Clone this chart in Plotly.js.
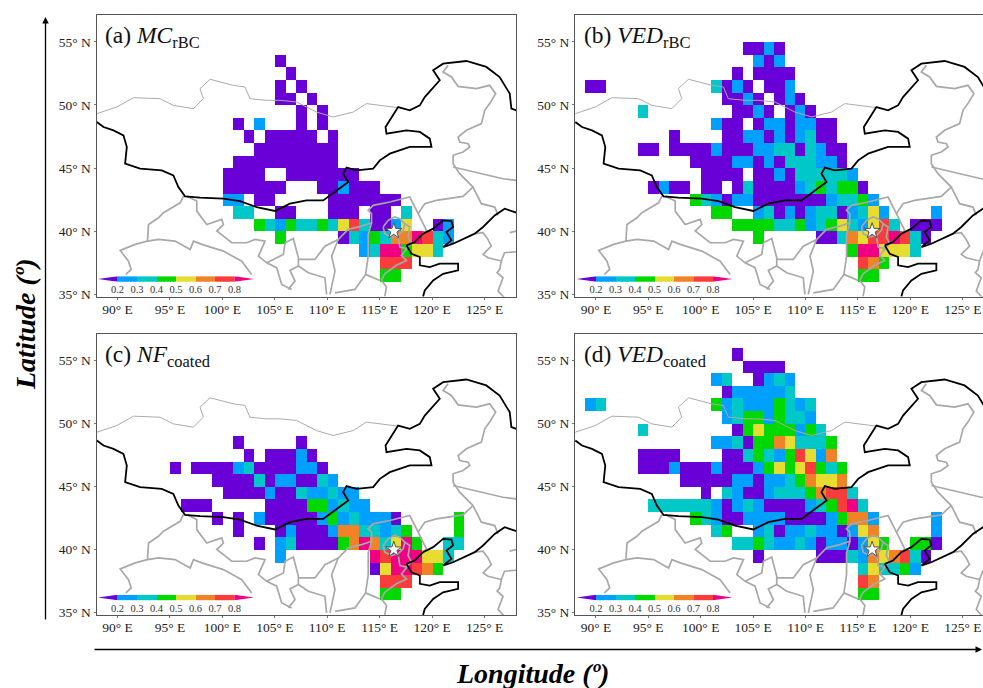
<!DOCTYPE html>
<html>
<head>
<meta charset="utf-8">
<script src="https://cdn.plot.ly/plotly-3.0.1.min.js"></script>
<style>html,body{margin:0;padding:0;background:#fff;overflow:hidden}</style>
</head>
<body>
<div id="chart" style="width:983px;height:688px"></div>
<script>
// Class colours and the value each class stands for
const classColors = ["#6a00d8","#00a0ff","#00c8c8","#00d800","#e6dc32","#f08228","#fa3c3c","#f00082"];
const classValues = [0.15,0.25,0.35,0.45,0.55,0.65,0.75,0.85];
const barTicks = [0.2,0.3,0.4,0.5,0.6,0.7,0.8];
const barCenters = [0.25,0.35,0.45,0.55,0.65,0.75];
const lonTicks = [90,95,100,105,110,115,120,125];
const lonTickText = ["90° E","95° E","100° E","105° E","110° E","115° E","120° E","125° E"];
const latTicks = [35,40,45,50,55];
const latTickText = ["35° N","40° N","45° N","50° N","55° N"];

// Each entry: [southern latitude of the row, western longitude of the run, class codes 1-8 for 1-degree cells]
const mcRbc = [
[53,105,"1"],[52,106,"1"],[51,105,"1"],[51,107,"1"],[50,105,"11"],[50,108,"1"],[49,107,"1"],[49,109,"1"],
[48,101,"1"],[48,103,"2"],[48,107,"1"],[48,109,"1"],[47,102,"1"],[47,104,"11111"],[47,110,"1"],
[46,103,"11111111"],[45,101,"1111111111"],[44,100,"1111"],[44,106,"1111111"],
[43,100,"111111"],[43,109,"112111"],[42,100,"22"],[42,103,"11"],[42,110,"1111111"],
[41,101,"33"],[41,105,"11"],[41,110,"111"],[41,114,"11"],[41,117,"3"],
[40,103,"432433435731125"],[40,120,"12"],[39,105,"4"],[39,111,"13243668732"],
[38,113,"23884553"],[37,115,"777"],[36,115,"44"]];
const vedRbc = [
[54,104,"1121"],[53,105,"212"],[52,103,"1"],[52,105,"1111"],[51,89,"11"],[51,101,"3121"],[51,106,"112"],
[50,102,"1121"],[50,107,"121"],[49,94,"3"],[49,103,"1121"],[49,108,"121"],[48,101,"211"],[48,105,"12212211"],
[47,97,"1"],[47,102,"11221212311"],[46,94,"11"],[46,97,"1111"],[46,101,"2111223313211"],
[45,99,"111122121333221"],[44,100,"1111"],[44,105,"1121333332"],
[43,95,"1211"],[43,100,"11"],[43,103,"1311112343441"],[42,99,"432122111111123342"],
[41,101,"44"],[41,105,"2312123312352"],[41,122,"2"],[40,103,"4444334234532573"],[40,120,"111"],
[39,105,"4"],[39,111,"11365778731"],[38,114,"4885553"],[37,115,"764"],[36,115,"44"]];
const nfCoated = [
[48,101,"1"],[48,107,"1"],[47,102,"1"],[47,104,"11121"],[46,95,"1"],[46,97,"1111231111221"],
[45,99,"111131221132"],[44,100,"1111211322322"],[43,96,"111"],[43,104,"1111442322"],
[42,99,"1"],[42,101,"1"],[42,103,"21111124232221"],[42,122,"4"],
[41,101,"1"],[41,105,"1211126633234"],[41,122,"4"],[40,103,"1"],[40,105,"23111146863584"],[40,121,"33"],
[39,105,"2"],[39,114,"87888"],[39,119,"553"],[38,114,"1588764"],[37,115,"777"],[36,115,"44"]];
const vedCoated = [
[55,103,"1"],[54,104,"1111"],[53,101,"23"],[53,105,"1232"],[52,102,"1222223"],[51,89,"23"],[51,101,"4232224323"],
[50,102,"234424332"],[49,94,"3"],[49,103,"145444243"],[48,101,"223144653334"],[47,94,"1111"],[47,102,"11343247526"],
[46,94,"11121112111245457434"],[45,98,"1111122122346556"],[44,100,"1"],[44,102,"3211233346773"],
[43,95,"333333212321111234783"],[42,99,"432112222111124662"],[42,122,"2"],
[41,101,"34"],[41,105,"231223221256"],[41,122,"2"],[40,103,"334322321221254"],[40,120,"441"],
[39,105,"1"],[39,111,"11132656731"],[38,115,"353342"],[37,115,"76"],[36,115,"44"]];

// Map outlines as [lon, lat] lists
const borderBlack = [
[[88.03,48.65],[88.67,48.25],[89.62,47.99],[90.57,47.59],[90.89,46.67],[90.73,45.34],[92.16,44.95],[94.22,44.81],[95.33,44.42],[95.81,43.49],[96.44,42.75],[97.87,42.65],[100.1,42.57],[101.68,42.38],[103.27,41.9],[105.02,41.59],[106.44,42.17],[108.03,42.43],[109.62,42.43],[110.89,43.23],[112.0,43.89],[111.52,44.55],[111.84,45.03],[112.79,44.81],[114.38,44.95],[115.02,45.61],[115.97,46.14],[117.87,46.67],[119.94,46.67],[119.78,47.33],[118.83,47.86],[117.56,47.99],[115.65,47.72],[115.56,48.25],[116.13,49.05],[116.76,49.84],[117.87,49.58],[118.83,49.97],[119.3,50.63],[120.73,51.96],[120.1,52.75],[121.05,53.28],[123.27,53.49],[125.17,53.02],[126.44,52.22],[127.4,50.9],[127.56,49.71],[128.03,49.58]],
[[117.56,38.86],[118.35,39.13],[119.14,39.79],[120.1,40.19],[121.05,40.85],[121.84,40.79],[122.0,40.32],[121.37,39.92],[121.84,39.26],[121.05,38.73],[122,38.99],[123.27,39.52],[124.07,39.79],[124.86,40.32],[125.97,41.24],[126.92,41.77],[128.03,41.46]],
[[117.56,38.86],[118.03,38.2],[118.83,37.94],[118.83,37.28],[119.78,37.14],[120.73,37.41],[122.48,37.41],[122.48,36.88],[121.05,36.61],[120.1,36.08],[119.3,35.29],[119.14,34.8]]];
const borderThinGray = [
[[88.03,49.31],[89.94,49.84],[91.52,50.58],[94.06,50.5],[95.33,49.97],[97.24,49.71],[98.19,50.5],[97.87,51.3],[98.83,52.04],[101.05,51.56],[102.16,51.43],[102.63,50.5],[104.22,50.37],[105.49,50.37],[107.08,50.24],[108.98,49.44],[110.57,49.05],[112.48,49.44],[113.75,50.11],[116.76,49.79]]];
const borderGray = [
[[96.29,42.77],[95.98,42.24],[94.39,41.45],[93.91,41.05],[92.96,40.52],[92.86,39.2],[91.69,38.94],[90.26,38.46],[91.05,37.61],[91.31,36.95],[90.8,36.56]],
[[92.86,39.2],[93.91,39.33],[95.5,39.2],[96.93,38.54],[97.25,39.2],[98.04,38.94],[100.1,38.41],[101.85,37.61],[102.8,36.56]],
[[96.61,42.77],[97.56,42.38],[97.56,41.58],[98.51,40.52],[99.94,40.92],[100.1,40.52],[99.47,40],[100.9,39.07],[102.32,39.07],[103.12,39.33],[104.07,39.2],[103.44,38.01],[104.23,37.48],[105.18,37.09],[105.66,35.76],[106.61,35.37]],
[[104.23,37.48],[105.82,38.14],[105.98,39.07],[106.77,39.41],[107.25,37.88],[107.25,37.22],[106.45,36.87],[106.93,36.03],[106.29,35.37]],
[[107.25,37.75],[108.83,37.75],[109.78,38.8],[111.05,39.33],[112,40.13],[113.28,40.39],[114.23,40.66],[114.22,41.38],[113.9,41.64],[114.38,42.04],[115.97,42.3],[117.08,42.57],[117.87,42.7],[118.67,41.38],[119.14,40.58],[119.46,40.05],[119.14,39.79]],
[[107.25,37.22],[108.2,36.69],[109.78,36.29],[109.94,34.97]],
[[111.05,39.33],[110.42,38],[110.74,36.82],[110.26,34.97]],
[[114.23,40.66],[113.91,39.73],[113.91,38],[113.66,36.56],[115.02,36.08]],
[[113.66,36.56],[112.64,35.37],[110.74,35.1]],
[[115.17,36.08],[115.49,36.61],[116.6,37.28],[117.56,37.67],[117.08,38.07],[117.71,38.73]],
[[115.17,36.08],[115.65,35.56],[115.49,34.81]],
[[115.33,40.32],[115.81,40.85],[116.44,41.11],[116.92,40.98],[117.4,40.58],[117.24,40.05],[116.76,39.66],[116.13,39.52],[115.49,39.79],[115.33,40.32]],
[[117.4,40.58],[117.87,40.32],[117.71,39.52],[118.03,39],[117.56,38.6],[116.92,38.73],[116.76,39.66]],
[[121.52,53.15],[121.05,52.62],[121.84,52.22],[122.48,51.48],[124.22,51.3],[125.49,51.56],[126.06,50.9],[125.49,50.11],[125.02,49.58],[124.7,48.52],[123.27,47.99],[122.48,47.46],[122.63,47.06],[123.43,46.93],[123.59,46.67],[122.95,46.27],[122,46.01],[122,45.34],[122.63,44.55],[123.9,43.49],[122.95,42.75],[120.41,42.43],[119.3,42.17],[118.67,41.38]],
[[122,45.08],[124.86,44.55],[126.76,44.15],[128.03,44.02]],
[[123.9,43.49],[124.7,42.17],[125.97,41.9],[126.29,41.24]],
[[124.07,39.79],[124.86,39.87],[125.33,39.34],[125.65,38.81],[124.86,38.15],[125.33,37.88],[126.6,37.62],[126.45,36.96],[126.2,36.69],[126.76,36.29],[126.29,35.24],[126.9,34.7]],
[[126.6,37.62],[126.9,38.28],[128.04,38.36]],
[[127.4,39.87],[128.04,40]]];
const siteLon = [116.35], siteLat = [40.0];

// Panel geometry in page pixels
const W = 983, H = 688;
const panels = [
 {data:mcRbc,    label:"(a) <i>MC</i><sub>rBC</sub>",      x0:96.5, x1:516, y0:15,  y1:296.7, xr:[88,128]},
 {data:vedRbc,   label:"(b) <i>VED</i><sub>rBC</sub>",     x0:575,  x1:983, y0:15,  y1:296.7, xr:[88,126.93]},
 {data:nfCoated, label:"(c) <i>NF</i><sub>coated</sub>",   x0:96.5, x1:516, y0:333.5,y1:615.2, xr:[88,128]},
 {data:vedCoated,label:"(d) <i>VED</i><sub>coated</sub>",  x0:575,  x1:983, y0:333.5,y1:615.2, xr:[88,126.93]}
];
const scale = classColors.flatMap((c,i)=>[[i/8,c],[(i+1)/8,c]]);
const font = "Liberation Serif, Times New Roman, serif";

function grid(rows){
  const lons=[],lats=[];
  for(let i=88;i<128;i++)lons.push(i+0.5);
  for(let j=34;j<58;j++)lats.push(j+0.5);
  const z=lats.map(()=>lons.map(()=>null));
  rows.forEach(([lat,lon,codes])=>{
    [...codes].forEach((c,k)=>{ z[lat-34][lon-88+k]=classValues[+c-1]; });
  });
  return {x:lons,y:lats,z};
}
function pathTrace(list,color,width,xa,ya){
  const x=[],y=[];
  list.forEach(p=>{p.forEach(q=>{x.push(q[0]);y.push(q[1]);});x.push(null);y.push(null);});
  return {type:"scatter",mode:"lines",x,y,xaxis:xa,yaxis:ya,line:{color,width,shape:"linear"},hoverinfo:"skip",showlegend:false,connectgaps:false};
}

const traces=[]; const layout={width:W,height:H,margin:{l:0,r:0,t:0,b:0},paper_bgcolor:"#fff",plot_bgcolor:"rgba(0,0,0,0)",showlegend:false,font:{family:font,color:"#222"},annotations:[]};
panels.forEach((p,i)=>{
  const n=i+1, xa="x"+n, ya="y"+n;
  const g=grid(p.data);
  traces.push({type:"heatmap",x:g.x,y:g.y,z:g.z,xaxis:xa,yaxis:ya,zmin:0.1,zmax:0.9,colorscale:scale,showscale:false,hoverinfo:"skip"});
  traces.push(pathTrace(borderThinGray,"#ababab",1,xa,ya));
  traces.push(pathTrace(borderGray,"#a8a8a8",1.7,xa,ya));
  traces.push(pathTrace(borderBlack,"#000",1.8,xa,ya));
  traces.push({type:"scatter",mode:"markers",x:siteLon,y:siteLat,xaxis:xa,yaxis:ya,hoverinfo:"skip",marker:{symbol:"star",size:12,color:"#fff",line:{color:"#555",width:1}}});
  const axCommon={showgrid:false,zeroline:false,showline:true,mirror:true,linecolor:"#555",linewidth:1,ticks:"outside",ticklen:2,tickcolor:"#777",tickwidth:1,tickfont:{family:font,size:13.5,color:"#222"}};
  layout["xaxis"+n]=Object.assign({},axCommon,{domain:[p.x0/W,p.x1/W],range:p.xr,anchor:ya,tickmode:"array",tickvals:lonTicks,ticktext:lonTickText,ticklabelstandoff:-2});
  layout["yaxis"+n]=Object.assign({},axCommon,{domain:[1-p.y1/H,1-p.y0/H],range:[34.79,57.14],anchor:xa,tickmode:"array",tickvals:latTicks,ticktext:latTickText});
  layout.annotations.push({xref:"paper",yref:"paper",x:(p.x0+6.5)/W,y:1-(p.y0+22)/H,xanchor:"left",yanchor:"middle",showarrow:false,text:p.label,font:{family:font,size:23.5,color:"#111"}});
  // Scale bar on its own small axes
  const m=n+4, bxa="x"+m, bya="y"+m;
  const bx0=p.x0+1.5, bx1=bx0+156, by0=p.y1-20.5, by1=by0+5.5;
  traces.push({type:"heatmap",x:barCenters,y:[0.5],z:[classValues.slice(1,7)],xaxis:bxa,yaxis:bya,zmin:0.1,zmax:0.9,colorscale:scale,showscale:false,hoverinfo:"skip"});
  traces.push({type:"scatter",mode:"lines",x:[0.2,0.1,0.2],y:[0,0.5,1],fill:"toself",fillcolor:classColors[0],line:{width:0,color:classColors[0]},xaxis:bxa,yaxis:bya,hoverinfo:"skip"});
  traces.push({type:"scatter",mode:"lines",x:[0.8,0.9,0.8],y:[0,0.5,1],fill:"toself",fillcolor:classColors[7],line:{width:0,color:classColors[7]},xaxis:bxa,yaxis:bya,hoverinfo:"skip"});
  layout["xaxis"+m]={domain:[bx0/W,bx1/W],range:[0.1,0.9],anchor:bya,showgrid:false,zeroline:false,showline:false,ticks:"",tickmode:"array",tickvals:barTicks,ticktext:barTicks.map(v=>v.toFixed(1)),tickfont:{family:font,size:10.5,color:"#333"},ticklabelstandoff:0};
  layout["yaxis"+m]={domain:[1-by1/H,1-by0/H],range:[0,1],anchor:bxa,visible:false,showticklabels:false};
});
// Axis titles and arrows
layout.annotations.push({xref:"paper",yref:"paper",x:532/W,y:1-673/H,xanchor:"center",yanchor:"middle",showarrow:false,text:"<b><i>Longitude (º)</i></b>",font:{family:font,size:28,color:"#000"}});
layout.annotations.push({xref:"paper",yref:"paper",x:25/W,y:1-325/H,xanchor:"center",yanchor:"middle",showarrow:false,textangle:-90,text:"<b><i>Latitude (º)</i></b>",font:{family:font,size:28,color:"#000"}});
layout.annotations.push({xref:"paper",yref:"paper",axref:"paper",ayref:"paper",x:45.5/W,y:1-17/H,ax:45.5/W,ay:1-621/H,text:"",showarrow:true,arrowhead:2,arrowsize:1,arrowwidth:1.3,arrowcolor:"#000"});
layout.annotations.push({xref:"paper",yref:"paper",axref:"paper",ayref:"paper",x:982/W,y:1-649.5/H,ax:93/W,ay:1-649.5/H,text:"",showarrow:true,arrowhead:2,arrowsize:1,arrowwidth:1.3,arrowcolor:"#000"});

Plotly.newPlot("chart",traces,layout,{displayModeBar:false,staticPlot:true});
</script>
</body>
</html>
